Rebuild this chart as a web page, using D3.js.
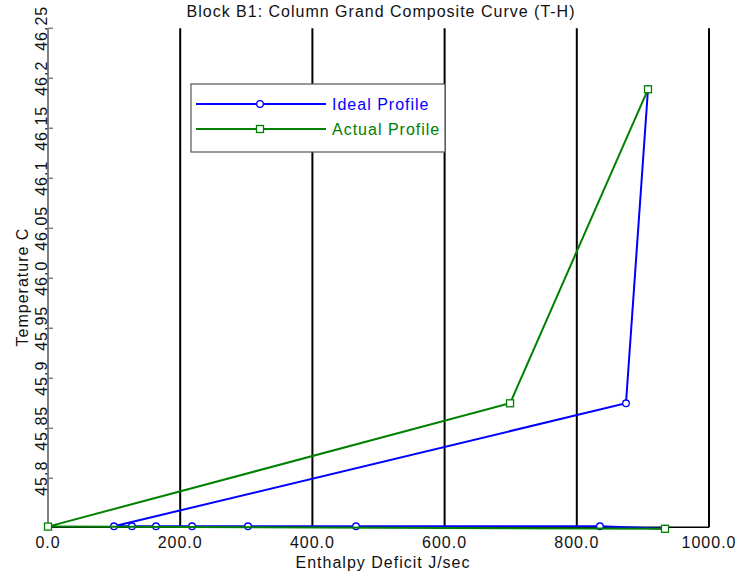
<!DOCTYPE html>
<html>
<head>
<meta charset="utf-8">
<script src="https://cdn.jsdelivr.net/npm/d3@7"></script>
<style>
  body { margin: 0; background: #fff; }
  svg { display: block; font-family: "Liberation Sans", Arial, sans-serif; }
</style>
</head>
<body>
<svg id="chart" width="740" height="579"></svg>
<script>
// ---- data ----
const idealX = [907.7, 874.4, 99.8, 127.0, 163.4, 217.9, 302.6, 466.0, 835.0, 933.4];
const idealY = [46.189, 45.875, 45.752, 45.752, 45.752, 45.752, 45.752, 45.752, 45.752, 45.7495];
const actualX = [907.7, 699.0, 0.0, 933.4];
const actualY = [46.189, 45.875, 45.7517, 45.7495];
const xTicks = [0, 200, 400, 600, 800, 1000];
const xTickLabels = ["0.0", "200.0", "400.0", "600.0", "800.0", "1000.0"];
const yTicks = [45.8, 45.85, 45.9, 45.95, 46.0, 46.05, 46.1, 46.15, 46.2, 46.25];
const yTickLabels = ["45.8", "45.85", "45.9", "45.95", "46.0", "46.05", "46.1", "46.15", "46.2", "46.25"];
const seriesNames = ["Ideal Profile", "Actual Profile"];
const seriesColors = ["#0000ff", "#008000"];

(function () {
// ---- layout ----
const svg = d3.select("#chart");
const pLeft = 48, pRight = 709, pTop = 28.3, pBottom = 527.3;
const x = d3.scaleLinear().domain([0, 1000]).range([pLeft, pRight]);
const y = d3.scaleLinear().domain([45.751, 46.25]).range([pBottom, pTop]);
const fontSize = 16, ls = "1px";

// title
svg.append("text").attr("x", 381).attr("y", 17)
  .attr("text-anchor", "middle").attr("font-size", fontSize).attr("letter-spacing", ls)
  .attr("fill", "#111").text("Block B1: Column Grand Composite Curve (T-H)");

// vertical grid lines (black)
svg.append("g").selectAll("line").data(xTicks.filter(d => d > 0)).join("line")
  .attr("x1", d => x(d)).attr("x2", d => x(d))
  .attr("y1", pTop).attr("y2", pBottom)
  .attr("stroke", "#000").attr("stroke-width", 2);

// x axis baseline
svg.append("line").attr("x1", pLeft).attr("x2", pRight).attr("y1", pBottom).attr("y2", pBottom)
  .attr("stroke", "#000").attr("stroke-width", 1.5);

// y axis (gray)
svg.append("line").attr("x1", pLeft).attr("x2", pLeft).attr("y1", pTop).attr("y2", pBottom)
  .attr("stroke", "#808080").attr("stroke-width", 2);
svg.append("g").selectAll("line").data(yTicks).join("line")
  .attr("x1", pLeft).attr("x2", pLeft + 5)
  .attr("y1", d => y(d)).attr("y2", d => y(d))
  .attr("stroke", "#808080").attr("stroke-width", 1.5);

// x tick labels
svg.append("g").selectAll("text").data(xTicks).join("text")
  .attr("x", d => x(d)).attr("y", 548)
  .attr("text-anchor", "middle").attr("font-size", fontSize).attr("letter-spacing", ls)
  .attr("fill", "#111").text((d, i) => xTickLabels[i]);

// y tick labels (rotated)
svg.append("g").selectAll("text").data(yTicks).join("text")
  .attr("transform", d => `translate(46.5,${y(d)}) rotate(-90)`)
  .attr("text-anchor", "middle").attr("font-size", fontSize).attr("letter-spacing", ls)
  .attr("fill", "#111").text((d, i) => yTickLabels[i]);

// axis titles
svg.append("text").attr("x", 383).attr("y", 568)
  .attr("text-anchor", "middle").attr("font-size", fontSize).attr("letter-spacing", ls)
  .attr("fill", "#111").text("Enthalpy Deficit J/sec");
svg.append("text").attr("transform", "translate(28,287) rotate(-90)")
  .attr("text-anchor", "middle").attr("font-size", fontSize).attr("letter-spacing", ls)
  .attr("fill", "#111").text("Temperature C");

// series
const line = d3.line().x(d => x(d[0])).y(d => y(d[1]));
const ideal = idealX.map((v, i) => [v, idealY[i]]);
const actual = actualX.map((v, i) => [v, actualY[i]]);

svg.append("path").datum(ideal).attr("d", line)
  .attr("fill", "none").attr("stroke", seriesColors[0]).attr("stroke-width", 2);
svg.append("g").selectAll("circle").data(ideal).join("circle")
  .attr("cx", d => x(d[0])).attr("cy", d => y(d[1])).attr("r", 3.3)
  .attr("fill", "#fff").attr("stroke", seriesColors[0]).attr("stroke-width", 1.3);

svg.append("path").datum(actual).attr("d", line)
  .attr("fill", "none").attr("stroke", seriesColors[1]).attr("stroke-width", 2);
svg.append("g").selectAll("rect").data(actual).join("rect")
  .attr("x", d => x(d[0]) - 3.5).attr("y", d => y(d[1]) - 3.5)
  .attr("width", 7).attr("height", 7)
  .attr("fill", "#fff").attr("stroke", seriesColors[1]).attr("stroke-width", 1.3);

// legend
const lg = svg.append("g");
lg.append("rect").attr("x", 191).attr("y", 84).attr("width", 254).attr("height", 68)
  .attr("fill", "#fff").attr("stroke", "#555").attr("stroke-width", 1.2);
seriesNames.forEach((name, i) => {
  const ly = 104 + i * 25;
  lg.append("line").attr("x1", 196).attr("x2", 326).attr("y1", ly).attr("y2", ly)
    .attr("stroke", seriesColors[i]).attr("stroke-width", 2);
  if (i === 0) {
    lg.append("circle").attr("cx", 260).attr("cy", ly).attr("r", 3.3)
      .attr("fill", "#fff").attr("stroke", seriesColors[i]).attr("stroke-width", 1.3);
  } else {
    lg.append("rect").attr("x", 256.5).attr("y", ly - 3.5).attr("width", 7).attr("height", 7)
      .attr("fill", "#fff").attr("stroke", seriesColors[i]).attr("stroke-width", 1.3);
  }
  lg.append("text").attr("x", 332).attr("y", ly + 6)
    .attr("font-size", fontSize).attr("letter-spacing", ls)
    .attr("fill", seriesColors[i]).text(name);
});
})();
</script>
</body>
</html>
